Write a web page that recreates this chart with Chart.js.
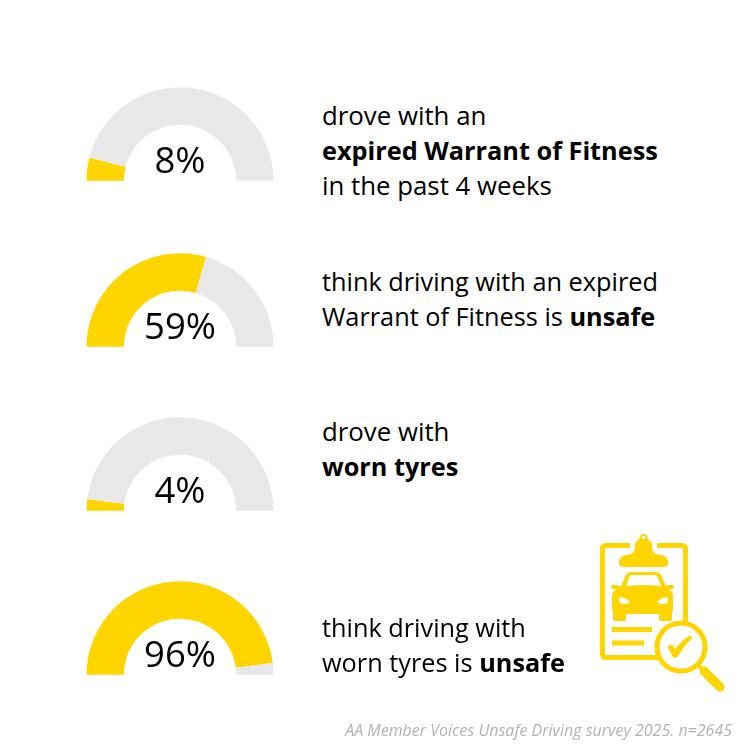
<!DOCTYPE html>
<html>
<head>
<meta charset="utf-8">
<script src="https://cdn.jsdelivr.net/npm/chart.js@4"></script>
<style>
  html, body { margin: 0; padding: 0; background: #fff; }
  body { width: 750px; height: 750px; position: relative; overflow: hidden; font-family: "Open Sans", sans-serif; color: #000; }
  .gauge { position: absolute; left: 80px; width: 200px; height: 100px; }
  .pct { position: absolute; left: 80px; width: 200px; text-align: center; font-size: 36.5px; line-height: 44px; }
  .txt { position: absolute; left: 322px; font-size: 25.3px; line-height: 35px; white-space: nowrap; }
  .txt i { font-style: normal; font-size: 25.8px; }
  .src { position: absolute; right: 18px; top: 720px; font-size: 16px; line-height: 20px; font-style: italic; color: #b3b3b3; white-space: nowrap; }
  svg { position: absolute; left: 0; top: 0; }
</style>
</head>
<body>
<script>
const percents = [8, 59, 4, 96];
const rest = [92, 41, 96, 4];
const labels = ['8%', '59%', '4%', '96%'];
const captions = [
  '<i>drove with an</i><br><b>expired Warrant of Fitness</b><br><i>in the past 4 weeks</i>',
  'think driving with an expired<br>Warrant of Fitness is <b>unsafe</b>',
  '<i>drove with</i><br><b>worn tyres</b>',
  'think driving with<br>worn tyres is <b>unsafe</b>',
];
const baselines = [181, 347, 511, 675];
const captionTops = [98, 264, 414, 610];

percents.forEach((p, i) => {
  const wrap = document.createElement('div');
  wrap.className = 'gauge';
  wrap.style.top = (baselines[i] - 97) + 'px';
  const c = document.createElement('canvas');
  c.width = 200;
  c.height = 100;
  wrap.appendChild(c);
  document.body.appendChild(wrap);

  new Chart(c, {
    type: 'doughnut',
    data: {
      labels: ['yes', 'no'],
      datasets: [{
        data: [p, rest[i]],
        backgroundColor: ['#FFD500', '#E8E8E8'],
        borderWidth: 0,
      }],
    },
    options: {
      responsive: false,
      animation: false,
      rotation: -90,
      circumference: 180,
      cutout: '60%',
      radius: 93.5,
      plugins: { legend: { display: false }, tooltip: { enabled: false } },
    },
  });

  const t = document.createElement('div');
  t.className = 'pct';
  t.style.top = (baselines[i] - 44) + 'px';
  t.textContent = labels[i];
  document.body.appendChild(t);

  const cap = document.createElement('div');
  cap.className = 'txt';
  cap.style.top = captionTops[i] + 'px';
  cap.innerHTML = captions[i];
  document.body.appendChild(cap);
});
</script>

<svg width="750" height="750" viewBox="0 0 750 750">
  <!-- clipboard -->
  <rect x="602.500" y="545.500" width="83" height="112" rx="3" fill="none" stroke="#FFD500" stroke-width="5"/>
  <path d="M630 540 h27 v16 h-27z" fill="#fff"/>
  <path d="M624 567 q-6 0 -5 -6 q1 -5 7 -6 q9 -1 9 -7 v-5 q3 -2 4 -4 q1 -5 4.500 -5 q3.500 0 4.500 5 q1 2 4 4 v5 q0 6 9 7 q6 1 7 6 q1 6 -5 6z" fill="#FFD500"/>
  <circle cx="643.500" cy="537.500" r="1.800" fill="#fff"/>
  <!-- car -->
  <path d="M621 586 l4 -9 q2 -5 7 -5 h23 q5 0 7 5 l4 9 q1 -1 3 -1 h3 q2 0 2 2 t-2 2 h-3 q4 3 4 8 v11 q0 3 -1 4 v7 q0 2 -3 2 h-7 q-3 0 -3 -2 v-5 h-33 v5 q0 2 -3 2 h-7 q-3 0 -3 -2 v-7 q-1 -1 -1 -4 v-11 q0 -5 4 -8 h-3 q-2 0 -2 -2 t2 -2 h3 q2 0 3 1z" fill="#FFD500"/>
  <path d="M626 586 l3 -8 q1 -3 4 -3 h21 q3 0 4 3 l3 8 q-17 -2 -35 0z" fill="#fff"/>
  <path d="M620 597 q7 1 10 5 q-2 2 -5 2 q-6 0 -6 -3 q0 -3 1 -4z" fill="#fff"/>
  <path d="M667 597 q-7 1 -10 5 q2 2 5 2 q6 0 6 -3 q0 -3 -1 -4z" fill="#fff"/>
  <!-- lines -->
  <rect x="612" y="627" width="40" height="5" fill="#FFD500"/>
  <rect x="612" y="640.500" width="32" height="5" fill="#FFD500"/>
  <!-- magnifier -->
  <circle cx="681" cy="647" r="24" fill="#fff" stroke="#FFD500" stroke-width="5"/>
  <path d="M699 666 L704 671" stroke="#FFD500" stroke-width="4"/>
  <path d="M704 671 L720 687" stroke="#FFD500" stroke-width="9" stroke-linecap="round"/>
  <path d="M667.500 647 Q670 644 672.500 645 L675 649 Q681 641 689 636 Q692 635 692 638 Q684 646 678 656 Q675 659 673 657z" fill="#FFD500"/>
</svg>

<div class="src">AA Member Voices Unsafe Driving survey 2025. n=2645</div>
</body>
</html>
